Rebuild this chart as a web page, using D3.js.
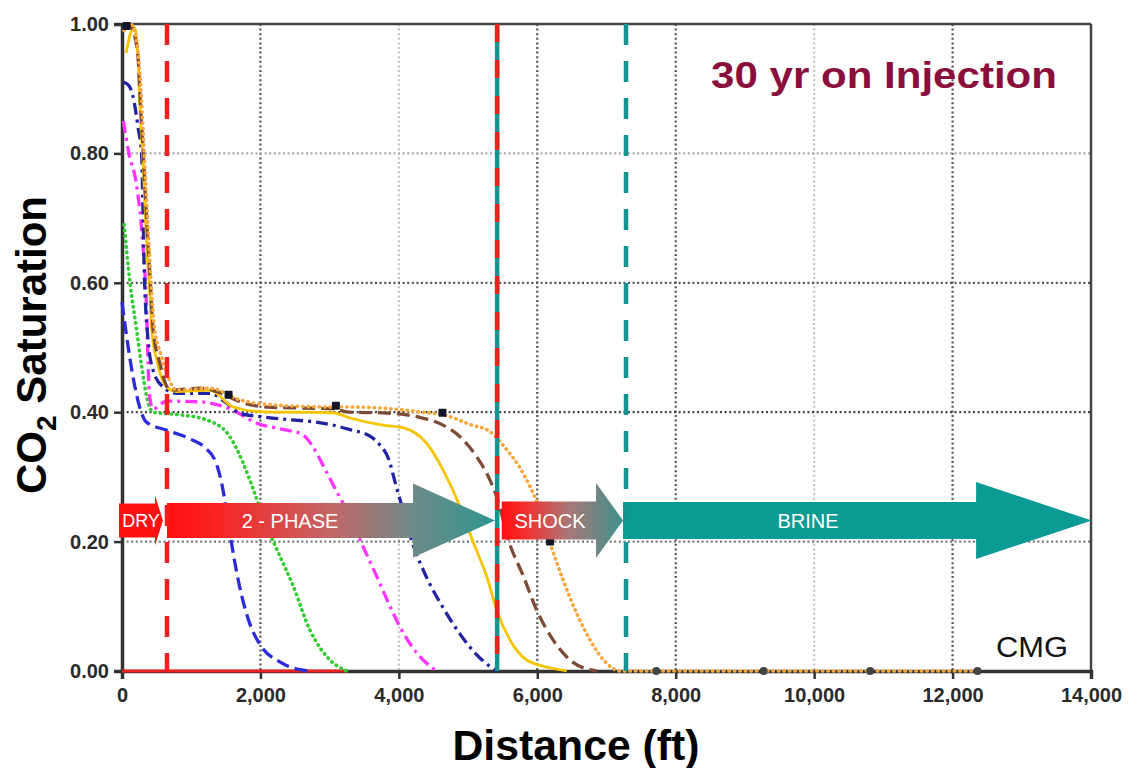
<!DOCTYPE html>
<html>
<head>
<meta charset="utf-8">
<script src="https://cdn.jsdelivr.net/npm/d3@7"></script>
<style>
  html, body { margin: 0; padding: 0; background: #fff; }
  svg { display: block; font-family: "Liberation Sans", Arial, sans-serif; }
</style>
</head>
<body>
<svg id="chart" width="1139" height="768"></svg>
<script>
// ---------- DATA ----------
const xTickValues = [0, 2000, 4000, 6000, 8000, 10000, 12000, 14000];
const yTickValues = [0, 0.2, 0.4, 0.6, 0.8, 1.0];
const xGridValues = [2000, 4000, 6000, 8000, 10000, 12000];
const yGridValues = [0.2, 0.4, 0.6, 0.8];

// [distance ft, CO2 saturation]
const blueDashed = [[0,0.57],[50,0.53],[150,0.46],[250,0.41],[350,0.385],[650,0.372],[1000,0.358],[1200,0.345],[1358,0.322],[1450,0.285],[1530,0.233],[1610,0.18],[1700,0.13],[1850,0.072],[2000,0.04],[2280,0.014],[2570,0.002],[2700,0]];
const greenDotted = [[30,0.69],[116,0.60],[212,0.527],[285,0.47],[357,0.424],[448,0.40],[838,0.396],[1224,0.388],[1532,0.366],[1650,0.345],[1748,0.322],[1900,0.28],[2052,0.233],[2250,0.185],[2471,0.132],[2716,0.063],[3005,0.017],[3250,0]];
const magentaDashDot = [[20,0.85],[100,0.80],[212,0.75],[303,0.656],[357,0.553],[376,0.476],[405,0.42],[450,0.405],[646,0.417],[1127,0.416],[1604,0.403],[1946,0.383],[2300,0.374],[2600,0.366],[2750,0.348],[2875,0.324],[3050,0.288],[3294,0.238],[3450,0.20],[3656,0.152],[3830,0.11],[4017,0.068],[4258,0.028],[4547,0]];
const navyDashDot = [[20,0.91],[91,0.906],[159,0.888],[231,0.841],[285,0.795],[300,0.728],[320,0.625],[376,0.512],[448,0.465],[592,0.439],[790,0.429],[1271,0.429],[1512,0.414],[1705,0.398],[2090,0.392],[3050,0.38],[3294,0.373],[3583,0.363],[3720,0.35],[3858,0.326],[3950,0.29],[4089,0.238],[4190,0.20],[4378,0.15],[4638,0.098],[4884,0.057],[5125,0.025],[5317,0.007],[5418,0]];
const yellowSolid = [[60,0.955],[120,0.985],[180,0.995],[231,0.95],[260,0.87],[303,0.79],[332,0.72],[361,0.65],[405,0.578],[430,0.527],[502,0.481],[646,0.439],[790,0.432],[1271,0.434],[1604,0.408],[1994,0.401],[3050,0.399],[3294,0.391],[3770,0.38],[4060,0.376],[4400,0.352],[4638,0.311],[4884,0.254],[5070,0.2],[5270,0.146],[5414,0.094],[5606,0.048],[5847,0.017],[6185,0.005],[6425,0]];
const brownDashed = [[30,0.995],[100,1.0],[159,0.99],[231,0.95],[260,0.89],[303,0.81],[332,0.75],[361,0.69],[405,0.61],[448,0.53],[549,0.475],[646,0.44],[694,0.434],[1127,0.437],[1416,0.43],[1705,0.416],[2090,0.408],[3050,0.405],[3294,0.40],[3771,0.399],[4258,0.393],[4638,0.38],[4884,0.362],[5125,0.331],[5317,0.295],[5414,0.269],[5606,0.195],[5794,0.148],[5992,0.094],[6228,0.048],[6473,0.017],[6661,0.005],[6859,0]];
const orangeDotted = [[30,0.99],[120,1.0],[200,0.98],[260,0.92],[303,0.84],[340,0.76],[380,0.68],[420,0.60],[470,0.53],[560,0.49],[646,0.46],[790,0.434],[1271,0.437],[1705,0.419],[1994,0.413],[3050,0.408],[3294,0.408],[4258,0.401],[4739,0.393],[5028,0.381],[5317,0.37],[5558,0.342],[5751,0.314],[5895,0.285],[5992,0.262],[6184,0.198],[6372,0.141],[6570,0.089],[6762,0.048],[7003,0.012],[7196,0],[12360,0]];
const redZero = [[0,0],[3250,0]];
const blackMarkers = [[68,0.997],[1540,0.427],[3090,0.41],[4630,0.399],[6185,0.2],[7720,0],[9270,0],[10810,0],[12360,0]];

// front boundaries (ft)
const dryFront = 650;
const shockFront = 5420;
const brineFront = 7282;

// arrow zones: label, start ft, head base ft, tip ft
const arrowLabels = ["DRY", "2 - PHASE", "SHOCK", "BRINE"];
const arrowStarts = [-43, 650, 5487, 7239];
const arrowHeadBases = [477, 4205, 6849, 12340];
const arrowTips = [592, 5390, 7239, 14011];
const arrowLevel = 0.2326;

// ---------- LAYOUT ----------
const svg = d3.select("#chart");
const L = 122, R = 1091, T = 24, B = 671;
const x = d3.scaleLinear().domain([0, 14000]).range([L, R]);
const y = d3.scaleLinear().domain([0, 1]).range([B, T]);

const defs = svg.append("defs");
function grad(id, stops) {
  const g = defs.append("linearGradient").attr("id", id)
    .attr("x1", "0%").attr("x2", "100%").attr("y1", "0%").attr("y2", "0%");
  stops.forEach(s => g.append("stop").attr("offset", s[0]).attr("stop-color", s[1]));
}
grad("g2phase", [[0, "#ff0f0f"], [0.15, "#f92222"], [0.5, "#c46666"], [0.75, "#6d8a88"], [1, "#2f958f"]]);
grad("gshock", [[0, "#ff1010"], [0.2, "#f23030"], [0.55, "#aa7777"], [1, "#3c928c"]]);

// ---------- GRID ----------
const darkX = new Set([2000, 6000, 8000, 12000]);
svg.append("g").selectAll("line").data(xGridValues).join("line")
  .attr("x1", d => x(d)).attr("x2", d => x(d)).attr("y1", T).attr("y2", B)
  .attr("stroke", d => darkX.has(d) ? "#555" : "#c4c4c4")
  .attr("stroke-width", 2.2).attr("stroke-dasharray", "2,2.6");
const yGridColor = {0.2: "#7a7a7a", 0.4: "#444", 0.6: "#555", 0.8: "#aaa"};
svg.append("g").selectAll("line").data(yGridValues).join("line")
  .attr("x1", L).attr("x2", R).attr("y1", d => y(d)).attr("y2", d => y(d))
  .attr("stroke", d => yGridColor[d])
  .attr("stroke-width", 2.2).attr("stroke-dasharray", "2,2.6");

// ---------- FRAME ----------
svg.append("line").attr("x1", L).attr("x2", R).attr("y1", T).attr("y2", T).attr("stroke", "#444").attr("stroke-width", 2.5);
svg.append("line").attr("x1", R).attr("x2", R).attr("y1", T).attr("y2", B).attr("stroke", "#444").attr("stroke-width", 2.5);

const xAxis = d3.axisBottom(x).tickValues(xTickValues).tickFormat(d3.format(",")).tickSize(8).tickPadding(9);
const yAxis = d3.axisLeft(y).tickValues(yTickValues).tickFormat(d3.format(".2f")).tickSize(8).tickPadding(5);
const gx = svg.append("g").attr("transform", `translate(0,${B})`).call(xAxis);
const gy = svg.append("g").attr("transform", `translate(${L},0)`).call(yAxis);
[gx, gy].forEach(g => {
  g.select(".domain").attr("stroke", "#333").attr("stroke-width", 3.5);
  g.selectAll(".tick line").attr("stroke", "#333").attr("stroke-width", 2.5);
  g.selectAll(".tick text").attr("font-size", 20).attr("font-weight", "bold")
    .attr("fill", "#2a2a2a").attr("font-family", "'Liberation Sans', Arial, sans-serif");
});

// ---------- CURVES ----------
const line = d3.line().x(d => x(d[0])).y(d => y(d[1])).curve(d3.curveMonotoneX);
const seriesStyle = [
  {data: redZero, color: "#f02020", dash: null, w: 3.2},
  {data: blueDashed, color: "#2b2bd9", dash: "13,6", w: 3.3},
  {data: greenDotted, color: "#33cc33", dash: "0.5,5", w: 3.6, round: true},
  {data: magentaDashDot, color: "#ff33ff", dash: "12,5,3,5", w: 3.3},
  {data: navyDashDot, color: "#2323a6", dash: "12,5,3,5", w: 3.3},
  {data: yellowSolid, color: "#f7c500", dash: null, w: 2.8},
  {data: brownDashed, color: "#7d4b35", dash: "13,6", w: 3.3},
  {data: orangeDotted, color: "#f6a73e", dash: "0.5,5", w: 3.6, round: true}
];
const gc = svg.append("g");
seriesStyle.forEach(s => {
  gc.append("path").datum(s.data).attr("d", line)
    .attr("fill", "none").attr("stroke", s.color).attr("stroke-width", s.w)
    .attr("stroke-dasharray", s.dash).attr("stroke-linecap", s.round ? "round" : "butt");
});
svg.append("g").selectAll("rect").data(blackMarkers).join("rect")
  .attr("x", d => x(d[0]) - 4).attr("y", d => y(d[1]) - 4)
  .attr("width", 8).attr("height", 8).attr("rx", d => d[1] === 0 ? 4 : 1)
  .attr("fill", d => d[1] === 0 ? "#444" : "#15152a");

// ---------- ARROWS ----------
const yc = y(arrowLevel);
const bodyHalf = [17, 17.5, 19, 18.5];
const headHalf = [25, 37, 37.5, 38.5];
const fills = ["#ff1111", "url(#g2phase)", "url(#gshock)", "#0a9b94"];
const ga = svg.append("g");
arrowLabels.forEach((lab, i) => {
  const x0 = x(arrowStarts[i]), xb = x(arrowHeadBases[i]), xt = x(arrowTips[i]);
  const bh = bodyHalf[i], hh = headHalf[i];
  const pts = [[x0, yc - bh], [xb, yc - bh], [xb, yc - hh], [xt, yc], [xb, yc + hh], [xb, yc + bh], [x0, yc + bh]];
  ga.append("path").attr("d", "M" + pts.map(p => p.join(",")).join("L") + "Z")
    .attr("fill", fills[i]).attr("stroke", "none");
});
const labelCx = [141, 290, 550, 808];
const labelSize = [18, 20, 20, 20];
arrowLabels.forEach((lab, i) => {
  ga.append("text").attr("x", labelCx[i]).attr("y", yc + labelSize[i] * 0.36)
    .attr("text-anchor", "middle").attr("fill", "#fff")
    .attr("font-size", labelSize[i]).text(lab);
});

// ---------- FRONT LINES ----------
function vline(d, color, dash, w) {
  svg.append("line").attr("x1", x(d)).attr("x2", x(d)).attr("y1", T).attr("y2", B)
    .attr("stroke", color).attr("stroke-width", w).attr("stroke-dasharray", dash);
}
vline(dryFront, "#f21d1d", "21,16", 4.5);
vline(shockFront, "#13948e", null, 4.5);
vline(shockFront, "#f21d1d", "18,18", 4.5);
vline(brineFront, "#13948e", "21,16", 4.5);

// ---------- TEXT ----------
svg.append("text").attr("x", 711).attr("y", 88).attr("font-size", 37).attr("font-weight", "bold")
  .attr("fill", "#8b0f3c").attr("textLength", 346).attr("lengthAdjust", "spacingAndGlyphs")
  .text("30 yr on Injection");
svg.append("text").attr("x", 996).attr("y", 657).attr("font-size", 30).attr("fill", "#111")
  .attr("textLength", 72).attr("lengthAdjust", "spacingAndGlyphs").text("CMG");
svg.append("text").attr("x", 576).attr("y", 760).attr("text-anchor", "middle")
  .attr("font-size", 42).attr("font-weight", "bold").attr("fill", "#000")
  .attr("textLength", 247).attr("lengthAdjust", "spacingAndGlyphs").text("Distance (ft)");
const yt = svg.append("text").attr("transform", "translate(46,345) rotate(-90)")
  .attr("text-anchor", "middle").attr("font-size", 42).attr("font-weight", "bold").attr("fill", "#000");
yt.append("tspan").text("CO");
yt.append("tspan").attr("font-size", 28).attr("dy", 10).text("2");
yt.append("tspan").attr("dy", -10).text(" Saturation");
</script>
</body>
</html>
